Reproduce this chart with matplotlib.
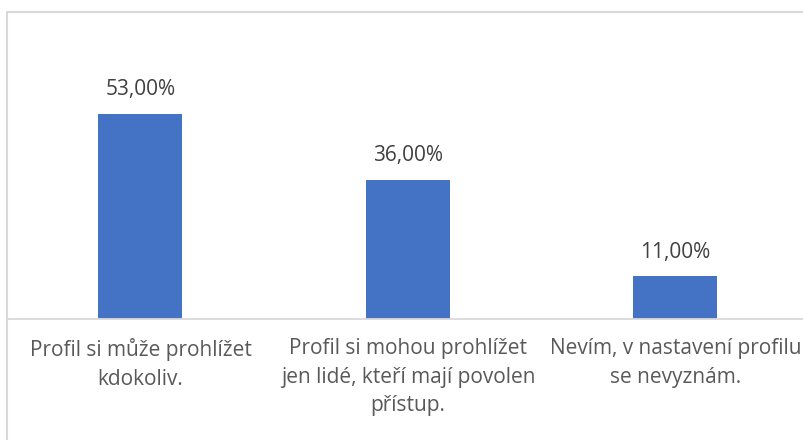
import matplotlib
matplotlib.use("Agg")
import matplotlib.pyplot as plt
from matplotlib.patches import Rectangle

categories = ["Profil si může prohlížet\nkdokoliv.",
              "Profil si mohou prohlížet\njen lidé, kteří mají povolen\npřístup.",
              "Nevím, v nastavení profilu\nse nevyznám."]
values = [53.0, 36.0, 11.0]
value_labels = ["53,00%", "36,00%", "11,00%"]

W, H = 804, 440
fig = plt.figure(figsize=(W / 100, H / 100), dpi=100)
plt.rcParams['font.family'] = ['Open Sans', 'DejaVu Sans']

# axes in pixel geometry
ax_left, ax_right = 7, 804
base_y, top_y = 319, 12
ax = fig.add_axes([ax_left / W, (H - base_y) / H, (ax_right - ax_left) / W, (base_y - top_y) / H])

px_per_cat = 267.5
c0 = 140.5
xlo = -(c0 - ax_left) / px_per_cat
xhi = 2 + (ax_right - (c0 + 2 * px_per_cat)) / px_per_cat
ax.set_xlim(xlo, xhi)
px_per_unit = 3.865
ax.set_ylim(0, (base_y - top_y) / px_per_unit)

x = list(range(len(values)))
bar_w = 84 / px_per_cat
ax.bar(x, values, width=bar_w, color="#4472C4", zorder=2)

for xi, v, lab in zip(x, values, value_labels):
    ax.annotate(lab, xy=(xi, v), xytext=(0, 10), textcoords="offset points",
                ha="center", va="bottom", fontsize=15, color="#404040")

for xi, lab in zip(x, categories):
    ax.annotate(lab, xy=(xi, 0), xycoords=("data", "axes fraction"),
                xytext=(0, -14), textcoords="offset points",
                ha="center", va="top", fontsize=15, color="#595959",
                linespacing=1.45, annotation_clip=False)

for s in ["top", "right", "left"]:
    ax.spines[s].set_visible(False)
ax.spines["bottom"].set_color("#d9d9d9")
ax.spines["bottom"].set_linewidth(1.3)
ax.set_xticks([])
ax.set_yticks([])
ax.patch.set_alpha(0)

# chart border (cropped on right/bottom)
fig.patches.append(Rectangle((7.5 / W, -0.1), 1.0, (H - 12.5) / H + 0.1,
                             transform=fig.transFigure, fill=False,
                             edgecolor="#d9d9d9", linewidth=1.5))

fig.savefig("out.png", dpi=100)
